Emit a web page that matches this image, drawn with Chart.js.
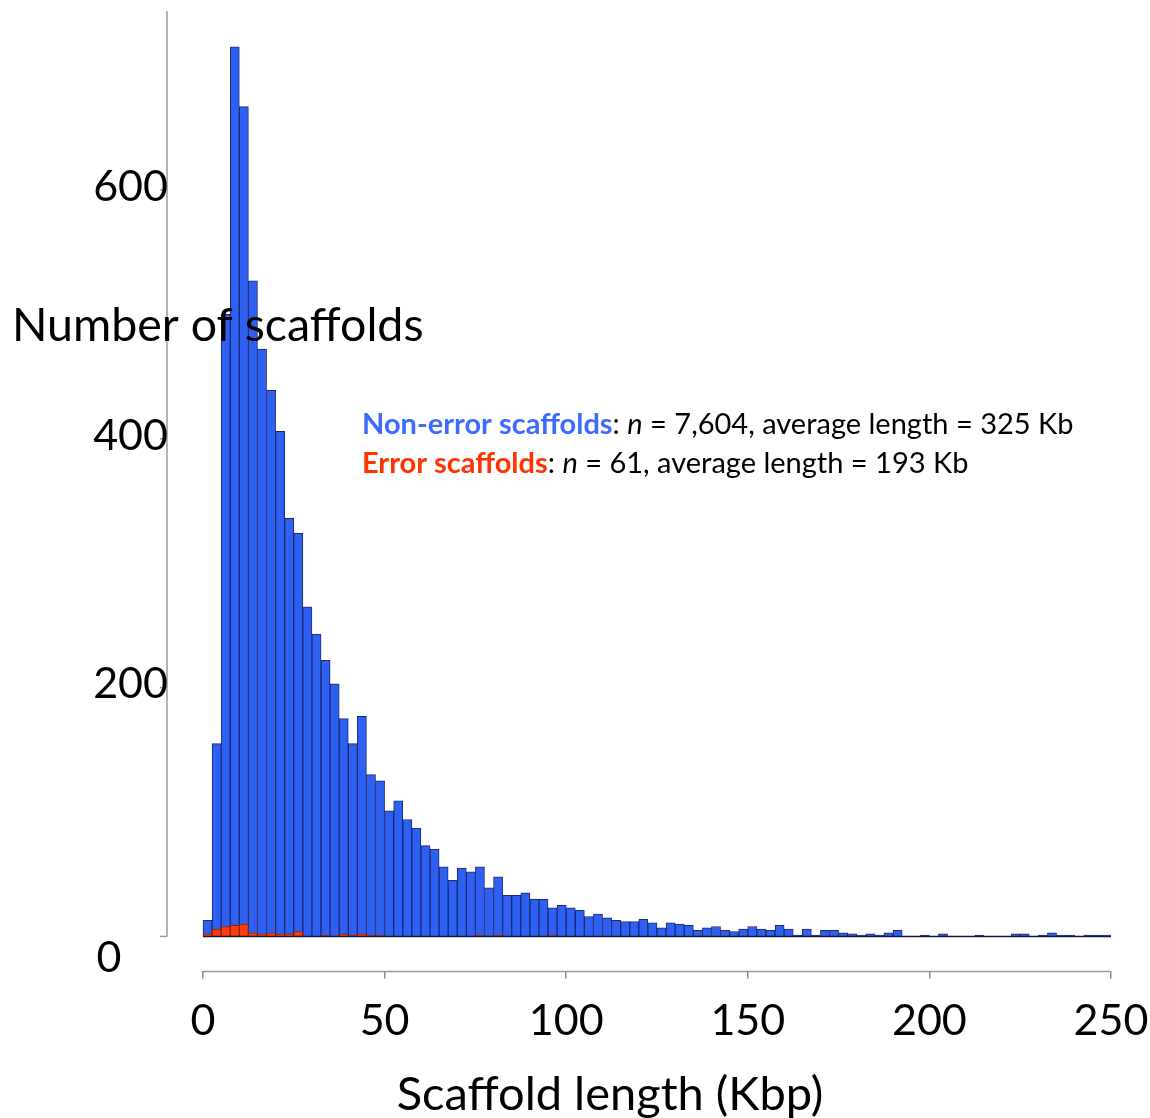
<!DOCTYPE html>
<html><head><meta charset="utf-8">
<script src="https://cdn.jsdelivr.net/npm/chart.js@4.4.0/dist/chart.umd.min.js"></script>
<style>html,body{margin:0;padding:0;background:#fff}#wrap{width:1150px;height:1118px;position:relative}canvas{display:block}</style>
</head><body><div id="wrap"><canvas id="c" width="1150" height="1118"></canvas></div>
<script>
// ---- data (histogram, bin width 2.5 Kbp) ----
const binStarts = [0,2.5,5,7.5,10,12.5,15,17.5,20,22.5,25,27.5,30,32.5,35,37.5,40,42.5,45,47.5,
50,52.5,55,57.5,60,62.5,65,67.5,70,72.5,75,77.5,80,82.5,85,87.5,90,92.5,95,97.5,
100,102.5,105,107.5,110,112.5,115,117.5,120,122.5,125,127.5,130,132.5,135,137.5,140,142.5,145,147.5,
150,152.5,155,157.5,160,162.5,165,167.5,170,172.5,175,177.5,180,182.5,185,187.5,190,192.5,195,197.5,
200,202.5,205,207.5,210,212.5,215,217.5,220,222.5,225,227.5,230,232.5,235,237.5,240,242.5,245,247.5];
const binWidth = 2.5;
const nonErrorCounts = [13,155,500,715,667,527,472,439,406,336,324,265,243,222,203,175,155,177,130,125,
101,109,94,87,73,70,56,45,55,52,56,39,48,33,33,35,30,30,23,25,
23,21,16,18,15,13,12,12,14,11,7,11,10,9,5,7,8,5,4,6,
8,6,5,9,6,1,6,1,5,5,3,2,1,2,1,3,5,0,0,1,
0,2,0,0,0,1,0,0,0,2,2,0,1,3,1,1,0,1,1,1];
const errorCounts = [2,6,8,9,10,3,2,3,2,2,4,0,0,1,0,2,1,2,1,1,
0,0,0,0,0,0,0,0,0,0,1,0,1,0,0,0,0,0,1,0,
0,0,0,0,0,0,0,0,0,0,0,0,0,0,0,0,0,0,0,0,
0,0,0,0,0,0,0,0,0,0,0,0,0,0,0,0,0,0,0,0,
0,0,0,0,0,0,0,0,0,0,0,0,0,0,0,0,0,0,0,0];
const xTicks = [0,50,100,150,200,250];
const yTicks = [0,200,400,600];
const xTitle = 'Scaffold length (Kbp)';
const yTitle = 'Number of scaffolds';
const seriesNames = ['Non-error scaffolds','Error scaffolds'];
const seriesN = ['7,604','61'];
const seriesAvg = ['325 Kb','193 Kb'];

const BLUE='#2F60F4', BLUE_EDGE='#1B2A6E', RED='#FF3D0D', RED_EDGE='#8A2200';
const TEXT_COLORS=['#3D6BFF','#FF3300'];
const FONT='Lato';

const overlay = {
  id:'overlay',
  afterDatasetsDraw(chart){
    const {ctx, scales:{x,y}} = chart;
    ctx.save();
    ctx.strokeStyle='#15183a'; ctx.lineWidth=1.6;
    const y0=y.getPixelForValue(0);
    ctx.beginPath(); ctx.moveTo(x.getPixelForValue(xTicks[0]), y0); ctx.lineTo(x.getPixelForValue(xTicks[xTicks.length-1]), y0); ctx.stroke();
    ctx.restore();
  },
  afterDraw(chart){
    const {ctx, chartArea:ca, scales:{x,y}} = chart;
    ctx.save();
    // y axis line and ticks
    ctx.strokeStyle='#9a9a9a'; ctx.lineWidth=1.5;
    const y0=y.getPixelForValue(0);
    ctx.beginPath(); ctx.moveTo(ca.left, ca.top); ctx.lineTo(ca.left, y0); ctx.stroke();
    yTicks.forEach(v=>{const p=y.getPixelForValue(v); ctx.beginPath(); ctx.moveTo(ca.left-7,p); ctx.lineTo(ca.left,p); ctx.stroke();});
    // x axis line
    ctx.beginPath(); ctx.moveTo(x.getPixelForValue(xTicks[0]), ca.bottom); ctx.lineTo(x.getPixelForValue(xTicks[xTicks.length-1]), ca.bottom); ctx.stroke();
    // y tick labels
    ctx.fillStyle='#000'; ctx.font='43px '+FONT; ctx.textBaseline='middle';
    yTicks.forEach(v=>{
      const p=y.getPixelForValue(v);
      if(v===0){ ctx.textAlign='center'; ctx.fillText(String(v), ca.left-58, p+22); }
      else { ctx.textAlign='right'; ctx.fillText(String(v), ca.left+1, p-3); }
    });
    // y title (horizontal, over the bars)
    ctx.textAlign='left'; ctx.font='46.5px '+FONT;
    ctx.fillText(yTitle, 12, 326);
    // x title
    ctx.textAlign='center'; ctx.font='47px '+FONT;
    ctx.fillText(xTitle, 610, 1095);
    // annotation
    ctx.textAlign='left';
    const ys=[425,464];
    const sz=29;
    seriesNames.forEach((name,i)=>{
      let cx=362;
      const seg=(t,f,c)=>{ctx.font=f; ctx.fillStyle=c; ctx.fillText(t,cx,ys[i]); cx+=ctx.measureText(t).width;};
      seg(name,'bold '+sz+'px '+FONT,TEXT_COLORS[i]);
      seg(': ',sz+'px '+FONT,'#000');
      seg('n','italic '+sz+'px '+FONT,'#000');
      seg(' = '+seriesN[i]+', average length = '+seriesAvg[i],sz+'px '+FONT,'#000');
    });
    ctx.restore();
  }
};

function make(){
  Chart.defaults.font.family = FONT;
  new Chart(document.getElementById('c'), {
    type:'bar',
    data:{datasets:[
      {label:seriesNames[1], data:binStarts.map((s,i)=>({x:s+binWidth/2,y:errorCounts[i]})),
       backgroundColor:RED, borderColor:RED_EDGE, borderWidth:1, grouped:false, order:0, barPercentage:1, categoryPercentage:1},
      {label:seriesNames[0], data:binStarts.map((s,i)=>({x:s+binWidth/2,y:nonErrorCounts[i]})),
       backgroundColor:BLUE, borderColor:BLUE_EDGE, borderWidth:1, grouped:false, order:1, barPercentage:1, categoryPercentage:1}
    ]},
    options:{
      responsive:false, animation:false, devicePixelRatio:1,
      layout:{padding:{left:167,right:39,top:11,bottom:54}},
      plugins:{legend:{display:false},tooltip:{enabled:false}},
      scales:{
        x:{type:'linear', min:-9.91, max:250, offset:false,
           afterBuildTicks:s=>{s.ticks=xTicks.map(v=>({value:v}));},
           afterFit:s=>{s.paddingLeft=0; s.paddingRight=0;},
           border:{display:false},
           grid:{offset:false, drawOnChartArea:false, drawTicks:true, tickLength:7, color:'#8c8c8c', lineWidth:1.5},
           ticks:{font:{size:43,family:FONT}, color:'#000', padding:17, maxRotation:0, autoSkip:false},
           title:{display:false}},
        y:{display:false, min:-28.1, max:743.8}
      }
    },
    plugins:[overlay]
  });
}
if(document.fonts && document.fonts.load){
  Promise.all([document.fonts.load('43px Lato'),document.fonts.load('bold 29px Lato'),document.fonts.load('italic 29px Lato')]).then(make,make);
} else make();
</script></body></html>
